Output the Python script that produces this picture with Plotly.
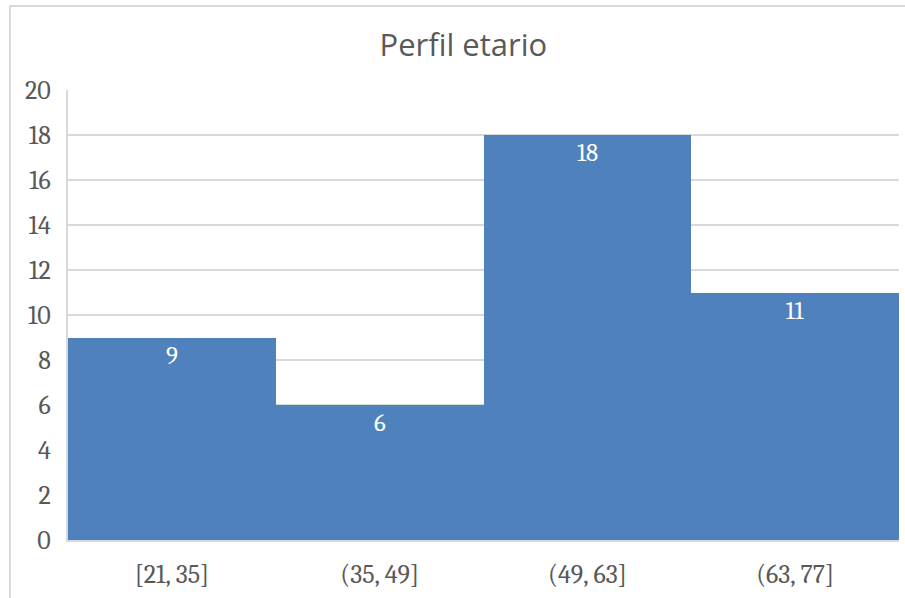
import plotly.graph_objects as go

categories = ["[21, 35]", "(35, 49]", "(49, 63]", "(63, 77]"]
counts = [9, 6, 18, 11]
y_ticks = [0, 2, 4, 6, 8, 10, 12, 14, 16, 18, 20]

serif = "Cambria, Caladea, 'Liberation Serif', 'DejaVu Serif', serif"

fig = go.Figure(go.Bar(
    x=categories, y=counts,
    marker=dict(color="#4F81BD", line=dict(width=0)),
    text=[str(v) for v in counts], textposition="inside",
    insidetextanchor="end",
    textfont=dict(color="white", size=25, family=serif),
    hoverinfo="skip",
))

fig.update_layout(
    width=905, height=598,
    margin=dict(l=68, r=6, t=90, b=58),
    paper_bgcolor="white", plot_bgcolor="white",
    bargap=0,
    title=dict(text="Perfil etario", x=0.512, xanchor="center", y=0.925, yanchor="middle",
               font=dict(family="'Open Sans', Lato, sans-serif", size=31, color="#595959")),
    showlegend=False,
    shapes=[dict(type="rect", xref="paper", yref="paper",
                 x0=-0.0698, x1=1.2, y0=-0.3, y1=1.1867,
                 line=dict(color="#D9D9D9", width=2), layer="below")],
)
fig.update_xaxes(showgrid=False, showline=True, linecolor="#D9D9D9", linewidth=2,
                 ticks="outside", ticklen=10, tickcolor="rgba(0,0,0,0)",
                 tickfont=dict(family=serif, size=26, color="#595959"))
fig.update_yaxes(range=[0, 20], tickvals=y_ticks, showgrid=True, gridcolor="#D9D9D9", gridwidth=1.5,
                 showline=True, linecolor="#D9D9D9", linewidth=2, zeroline=False,
                 ticks="outside", ticklen=10, tickcolor="rgba(0,0,0,0)",
                 tickfont=dict(family=serif, size=26, color="#595959"))

fig.write_html("out.html")
